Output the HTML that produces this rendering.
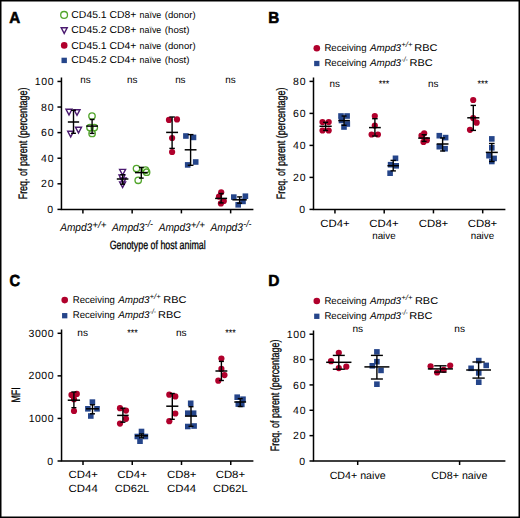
<!DOCTYPE html>
<html><head><meta charset="utf-8"><style>
html,body{margin:0;padding:0;background:#fff;}
svg{display:block;font-family:"Liberation Sans", sans-serif;text-rendering:geometricPrecision;}
</style></head><body>
<svg width="520" height="518" viewBox="0 0 520 518">
<rect width="520" height="518" fill="#fff"/>
<rect x="0.75" y="0.75" width="518.5" height="516.5" fill="none" stroke="#000" stroke-width="1.5"/>
<text x="9.32" y="22.70" font-size="16.0" font-weight="bold" textLength="10.98" lengthAdjust="spacingAndGlyphs" fill="#000" stroke="#000" stroke-width="0.6">A</text>
<circle cx="64.10" cy="14.90" r="3.4" fill="none" stroke="#52A52C" stroke-width="1.3"/>
<text x="71.37" y="18.20" font-size="10" textLength="65.04" lengthAdjust="spacingAndGlyphs" fill="#000">CD45.1 CD8+</text>
<text x="139.61" y="18.20" font-size="9.3" textLength="21.68" lengthAdjust="spacingAndGlyphs" fill="#000">naïve</text>
<text x="164.81" y="18.20" font-size="9.3" textLength="30.78" lengthAdjust="spacingAndGlyphs" fill="#000">(donor)</text>
<path d="M61.20 27.80 L67.20 27.80 L64.20 33.40 Z" fill="none" stroke="#4B1A70" stroke-width="1.4" stroke-linejoin="miter"/>
<text x="71.37" y="33.10" font-size="10" textLength="65.04" lengthAdjust="spacingAndGlyphs" fill="#000">CD45.2 CD8+</text>
<text x="139.61" y="33.10" font-size="9.3" textLength="21.68" lengthAdjust="spacingAndGlyphs" fill="#000">naïve</text>
<text x="164.80" y="33.10" font-size="9.3" textLength="24.70" lengthAdjust="spacingAndGlyphs" fill="#000">(host)</text>
<circle cx="64.20" cy="45.40" r="3.3" fill="#B0002C"/>
<text x="71.37" y="48.50" font-size="10" textLength="65.04" lengthAdjust="spacingAndGlyphs" fill="#000">CD45.1 CD4+</text>
<text x="139.61" y="48.50" font-size="9.3" textLength="21.68" lengthAdjust="spacingAndGlyphs" fill="#000">naïve</text>
<text x="164.81" y="48.50" font-size="9.3" textLength="30.78" lengthAdjust="spacingAndGlyphs" fill="#000">(donor)</text>
<rect x="61.50" y="57.70" width="5.4" height="5.4" fill="#25458A"/>
<text x="71.37" y="63.40" font-size="10" textLength="65.04" lengthAdjust="spacingAndGlyphs" fill="#000">CD45.2 CD4+</text>
<text x="139.61" y="63.40" font-size="9.3" textLength="21.68" lengthAdjust="spacingAndGlyphs" fill="#000">naïve</text>
<text x="164.80" y="63.40" font-size="9.3" textLength="24.70" lengthAdjust="spacingAndGlyphs" fill="#000">(host)</text>
<path d="M61.45 77.60 L61.45 209.40 L253.40 209.40" fill="none" stroke="#000" stroke-width="1.5" stroke-linejoin="miter" stroke-linecap="butt"/>
<line x1="57.45" y1="209.40" x2="61.45" y2="209.40" stroke="#000" stroke-width="1.5"/>
<line x1="57.45" y1="183.81" x2="61.45" y2="183.81" stroke="#000" stroke-width="1.5"/>
<line x1="57.45" y1="158.22" x2="61.45" y2="158.22" stroke="#000" stroke-width="1.5"/>
<line x1="57.45" y1="132.63" x2="61.45" y2="132.63" stroke="#000" stroke-width="1.5"/>
<line x1="57.45" y1="107.04" x2="61.45" y2="107.04" stroke="#000" stroke-width="1.5"/>
<line x1="57.45" y1="81.45" x2="61.45" y2="81.45" stroke="#000" stroke-width="1.5"/>
<line x1="82.90" y1="209.40" x2="82.90" y2="213.40" stroke="#000" stroke-width="1.5"/>
<line x1="132.15" y1="209.40" x2="132.15" y2="213.40" stroke="#000" stroke-width="1.5"/>
<line x1="181.40" y1="209.40" x2="181.40" y2="213.40" stroke="#000" stroke-width="1.5"/>
<line x1="230.65" y1="209.40" x2="230.65" y2="213.40" stroke="#000" stroke-width="1.5"/>
<text x="47.33" y="213.00" font-size="10.5" textLength="6.18" lengthAdjust="spacing" fill="#000">0</text>
<text x="41.09" y="187.41" font-size="10.5" textLength="12.42" lengthAdjust="spacing" fill="#000">20</text>
<text x="41.07" y="161.82" font-size="10.5" textLength="12.44" lengthAdjust="spacing" fill="#000">40</text>
<text x="41.09" y="136.23" font-size="10.5" textLength="12.42" lengthAdjust="spacing" fill="#000">60</text>
<text x="41.09" y="110.64" font-size="10.5" textLength="12.42" lengthAdjust="spacing" fill="#000">80</text>
<text x="34.87" y="85.05" font-size="10.5" textLength="18.64" lengthAdjust="spacing" fill="#000">100</text>
<text x="60.20" y="231.20" font-size="11.0" font-style="italic" textLength="31.99" lengthAdjust="spacingAndGlyphs" fill="#000">Ampd3</text>
<text x="92.38" y="227.60" font-size="9.5" font-style="italic" textLength="14.16" lengthAdjust="spacingAndGlyphs" fill="#000">+/+</text>
<text x="112.05" y="231.20" font-size="11.0" font-style="italic" textLength="32.39" lengthAdjust="spacingAndGlyphs" fill="#000">Ampd3</text>
<text x="144.70" y="227.00" font-size="9.5" font-style="italic" textLength="8.35" lengthAdjust="spacingAndGlyphs" fill="#000">-/-</text>
<text x="158.70" y="231.20" font-size="11.0" font-style="italic" textLength="31.99" lengthAdjust="spacingAndGlyphs" fill="#000">Ampd3</text>
<text x="190.88" y="227.60" font-size="9.5" font-style="italic" textLength="14.16" lengthAdjust="spacingAndGlyphs" fill="#000">+/+</text>
<text x="210.55" y="231.20" font-size="11.0" font-style="italic" textLength="32.39" lengthAdjust="spacingAndGlyphs" fill="#000">Ampd3</text>
<text x="243.20" y="227.00" font-size="9.5" font-style="italic" textLength="8.35" lengthAdjust="spacingAndGlyphs" fill="#000">-/-</text>
<text x="109.65" y="248.60" font-size="12.0" textLength="96.04" lengthAdjust="spacingAndGlyphs" fill="#000" stroke="#000" stroke-width="0.3">Genotype of host animal</text>
<text transform="rotate(-90)" x="-199.33" y="26.90" font-size="12.2" textLength="111.69" lengthAdjust="spacingAndGlyphs" stroke="#000" stroke-width="0.3">Freq. of parent (percentage)</text>
<text x="80.25" y="83.40" font-size="10" textLength="10.41" lengthAdjust="spacingAndGlyphs" fill="#000">ns</text>
<text x="126.95" y="83.40" font-size="10" textLength="10.41" lengthAdjust="spacingAndGlyphs" fill="#000">ns</text>
<text x="175.15" y="83.40" font-size="10" textLength="10.41" lengthAdjust="spacingAndGlyphs" fill="#000">ns</text>
<text x="225.25" y="83.40" font-size="10" textLength="10.41" lengthAdjust="spacingAndGlyphs" fill="#000">ns</text>
<path d="M66.00 109.30 L72.00 109.30 L69.00 114.90 Z" fill="none" stroke="#4B1A70" stroke-width="1.4" stroke-linejoin="miter"/>
<path d="M74.00 109.70 L80.00 109.70 L77.00 115.30 Z" fill="none" stroke="#4B1A70" stroke-width="1.4" stroke-linejoin="miter"/>
<path d="M75.50 127.30 L81.50 127.30 L78.50 132.90 Z" fill="none" stroke="#4B1A70" stroke-width="1.4" stroke-linejoin="miter"/>
<path d="M67.70 131.30 L73.70 131.30 L70.70 136.90 Z" fill="none" stroke="#4B1A70" stroke-width="1.4" stroke-linejoin="miter"/>
<line x1="73.50" y1="110.30" x2="73.50" y2="133.30" stroke="#000" stroke-width="1.4"/>
<line x1="67.85" y1="122.00" x2="79.15" y2="122.00" stroke="#000" stroke-width="1.5"/>
<line x1="71.10" y1="110.30" x2="75.90" y2="110.30" stroke="#000" stroke-width="1.4"/>
<line x1="71.10" y1="133.30" x2="75.90" y2="133.30" stroke="#000" stroke-width="1.4"/>
<circle cx="92.00" cy="116.00" r="3.2" fill="none" stroke="#52A52C" stroke-width="1.35"/>
<circle cx="90.00" cy="127.60" r="3.2" fill="none" stroke="#52A52C" stroke-width="1.35"/>
<circle cx="94.30" cy="127.60" r="3.2" fill="none" stroke="#52A52C" stroke-width="1.35"/>
<circle cx="92.10" cy="133.40" r="3.2" fill="none" stroke="#52A52C" stroke-width="1.35"/>
<line x1="92.10" y1="119.50" x2="92.10" y2="133.40" stroke="#000" stroke-width="1.4"/>
<line x1="86.20" y1="126.10" x2="98.00" y2="126.10" stroke="#000" stroke-width="1.5"/>
<line x1="89.70" y1="119.50" x2="94.50" y2="119.50" stroke="#000" stroke-width="1.4"/>
<line x1="89.70" y1="133.40" x2="94.50" y2="133.40" stroke="#000" stroke-width="1.4"/>
<path d="M119.60 169.40 L125.60 169.40 L122.60 175.00 Z" fill="none" stroke="#4B1A70" stroke-width="1.4" stroke-linejoin="miter"/>
<path d="M119.00 174.90 L125.00 174.90 L122.00 180.50 Z" fill="none" stroke="#4B1A70" stroke-width="1.4" stroke-linejoin="miter"/>
<path d="M120.20 177.90 L126.20 177.90 L123.20 183.50 Z" fill="none" stroke="#4B1A70" stroke-width="1.4" stroke-linejoin="miter"/>
<path d="M119.60 181.90 L125.60 181.90 L122.60 187.50 Z" fill="none" stroke="#4B1A70" stroke-width="1.4" stroke-linejoin="miter"/>
<line x1="122.60" y1="174.70" x2="122.60" y2="184.20" stroke="#000" stroke-width="1.4"/>
<line x1="116.80" y1="179.00" x2="128.40" y2="179.00" stroke="#000" stroke-width="1.5"/>
<line x1="120.20" y1="174.70" x2="125.00" y2="174.70" stroke="#000" stroke-width="1.4"/>
<line x1="120.20" y1="184.20" x2="125.00" y2="184.20" stroke="#000" stroke-width="1.4"/>
<circle cx="136.50" cy="168.50" r="3.2" fill="none" stroke="#52A52C" stroke-width="1.35"/>
<circle cx="145.50" cy="170.00" r="3.2" fill="none" stroke="#52A52C" stroke-width="1.35"/>
<circle cx="146.60" cy="172.20" r="3.2" fill="none" stroke="#52A52C" stroke-width="1.35"/>
<circle cx="138.20" cy="180.30" r="3.2" fill="none" stroke="#52A52C" stroke-width="1.35"/>
<line x1="141.30" y1="167.40" x2="141.30" y2="178.10" stroke="#000" stroke-width="1.4"/>
<line x1="134.95" y1="172.60" x2="147.65" y2="172.60" stroke="#000" stroke-width="1.5"/>
<line x1="138.90" y1="167.40" x2="143.70" y2="167.40" stroke="#000" stroke-width="1.4"/>
<line x1="138.90" y1="178.10" x2="143.70" y2="178.10" stroke="#000" stroke-width="1.4"/>
<circle cx="169.00" cy="119.90" r="3.1" fill="#B0002C"/>
<circle cx="177.00" cy="119.40" r="3.1" fill="#B0002C"/>
<circle cx="172.10" cy="138.00" r="3.1" fill="#B0002C"/>
<circle cx="172.10" cy="152.00" r="3.1" fill="#B0002C"/>
<line x1="172.10" y1="117.00" x2="172.10" y2="148.40" stroke="#000" stroke-width="1.4"/>
<line x1="166.15" y1="132.40" x2="178.05" y2="132.40" stroke="#000" stroke-width="1.5"/>
<line x1="169.35" y1="117.00" x2="174.85" y2="117.00" stroke="#000" stroke-width="1.4"/>
<line x1="169.35" y1="148.40" x2="174.85" y2="148.40" stroke="#000" stroke-width="1.4"/>
<rect x="183.10" y="133.20" width="5.6" height="5.6" fill="#25458A"/>
<rect x="190.70" y="134.60" width="5.6" height="5.6" fill="#25458A"/>
<rect x="184.90" y="162.10" width="5.6" height="5.6" fill="#25458A"/>
<rect x="192.90" y="159.20" width="5.6" height="5.6" fill="#25458A"/>
<line x1="190.60" y1="134.60" x2="190.60" y2="165.30" stroke="#000" stroke-width="1.4"/>
<line x1="184.70" y1="149.80" x2="196.50" y2="149.80" stroke="#000" stroke-width="1.5"/>
<line x1="187.75" y1="134.60" x2="193.45" y2="134.60" stroke="#000" stroke-width="1.4"/>
<line x1="187.75" y1="165.30" x2="193.45" y2="165.30" stroke="#000" stroke-width="1.4"/>
<circle cx="221.20" cy="192.30" r="3.1" fill="#B0002C"/>
<circle cx="219.00" cy="196.60" r="3.1" fill="#B0002C"/>
<circle cx="223.80" cy="201.00" r="3.1" fill="#B0002C"/>
<circle cx="220.90" cy="203.40" r="3.1" fill="#B0002C"/>
<line x1="221.10" y1="193.50" x2="221.10" y2="202.90" stroke="#000" stroke-width="1.4"/>
<line x1="215.10" y1="198.40" x2="227.10" y2="198.40" stroke="#000" stroke-width="1.5"/>
<line x1="218.60" y1="193.50" x2="223.60" y2="193.50" stroke="#000" stroke-width="1.4"/>
<line x1="218.60" y1="202.90" x2="223.60" y2="202.90" stroke="#000" stroke-width="1.4"/>
<rect x="231.00" y="194.30" width="5.6" height="5.6" fill="#25458A"/>
<rect x="242.60" y="193.40" width="5.6" height="5.6" fill="#25458A"/>
<rect x="240.20" y="198.60" width="5.6" height="5.6" fill="#25458A"/>
<rect x="235.40" y="202.00" width="5.6" height="5.6" fill="#25458A"/>
<line x1="239.60" y1="196.90" x2="239.60" y2="203.20" stroke="#000" stroke-width="1.4"/>
<line x1="232.40" y1="199.80" x2="246.80" y2="199.80" stroke="#000" stroke-width="1.5"/>
<line x1="237.10" y1="196.90" x2="242.10" y2="196.90" stroke="#000" stroke-width="1.4"/>
<line x1="237.10" y1="203.20" x2="242.10" y2="203.20" stroke="#000" stroke-width="1.4"/>
<text x="268.28" y="22.70" font-size="16.0" font-weight="bold" textLength="11.01" lengthAdjust="spacingAndGlyphs" fill="#000" stroke="#000" stroke-width="0.6">B</text>
<circle cx="316.80" cy="48.30" r="3.3" fill="#B0002C"/>
<rect x="314.15" y="60.85" width="5.3" height="5.3" fill="#25458A"/>
<text x="324.41" y="51.30" font-size="9.8" textLength="42.10" lengthAdjust="spacingAndGlyphs" fill="#000">Receiving</text>
<text x="324.41" y="66.30" font-size="9.8" textLength="42.10" lengthAdjust="spacingAndGlyphs" fill="#000">Receiving</text>
<text x="369.98" y="51.30" font-size="9.8" font-style="italic" textLength="31.10" lengthAdjust="spacingAndGlyphs" fill="#000">Ampd3</text>
<text x="369.98" y="66.30" font-size="9.8" font-style="italic" textLength="31.10" lengthAdjust="spacingAndGlyphs" fill="#000">Ampd3</text>
<text x="401.21" y="47.30" font-size="7.6" font-style="italic" textLength="11.26" lengthAdjust="spacingAndGlyphs" fill="#000">+/+</text>
<text x="401.46" y="62.30" font-size="7.6" font-style="italic" textLength="6.18" lengthAdjust="spacingAndGlyphs" fill="#000">-/-</text>
<text x="414.30" y="51.30" font-size="9.8" textLength="23.22" lengthAdjust="spacingAndGlyphs" fill="#000">RBC</text>
<text x="409.50" y="66.30" font-size="9.8" textLength="23.22" lengthAdjust="spacingAndGlyphs" fill="#000">RBC</text>
<path d="M313.50 77.60 L313.50 209.40 L505.40 209.40" fill="none" stroke="#000" stroke-width="1.5" stroke-linejoin="miter" stroke-linecap="butt"/>
<line x1="309.50" y1="209.40" x2="313.50" y2="209.40" stroke="#000" stroke-width="1.5"/>
<line x1="309.50" y1="177.40" x2="313.50" y2="177.40" stroke="#000" stroke-width="1.5"/>
<line x1="309.50" y1="145.40" x2="313.50" y2="145.40" stroke="#000" stroke-width="1.5"/>
<line x1="309.50" y1="113.40" x2="313.50" y2="113.40" stroke="#000" stroke-width="1.5"/>
<line x1="309.50" y1="81.40" x2="313.50" y2="81.40" stroke="#000" stroke-width="1.5"/>
<line x1="334.95" y1="209.40" x2="334.95" y2="213.40" stroke="#000" stroke-width="1.5"/>
<line x1="384.20" y1="209.40" x2="384.20" y2="213.40" stroke="#000" stroke-width="1.5"/>
<line x1="433.45" y1="209.40" x2="433.45" y2="213.40" stroke="#000" stroke-width="1.5"/>
<line x1="482.70" y1="209.40" x2="482.70" y2="213.40" stroke="#000" stroke-width="1.5"/>
<text x="299.33" y="213.00" font-size="10.5" textLength="6.18" lengthAdjust="spacing" fill="#000">0</text>
<text x="293.09" y="181.00" font-size="10.5" textLength="12.42" lengthAdjust="spacing" fill="#000">20</text>
<text x="293.07" y="149.00" font-size="10.5" textLength="12.44" lengthAdjust="spacing" fill="#000">40</text>
<text x="293.09" y="117.00" font-size="10.5" textLength="12.42" lengthAdjust="spacing" fill="#000">60</text>
<text x="293.09" y="85.00" font-size="10.5" textLength="12.42" lengthAdjust="spacing" fill="#000">80</text>
<text x="320.27" y="226.90" font-size="10.5" textLength="29.44" lengthAdjust="spacingAndGlyphs" fill="#000">CD4+</text>
<text x="369.27" y="226.90" font-size="10.5" textLength="29.44" lengthAdjust="spacingAndGlyphs" fill="#000">CD4+</text>
<text x="372.20" y="239.10" font-size="10" textLength="23.38" lengthAdjust="spacingAndGlyphs" fill="#000">naive</text>
<text x="418.77" y="226.90" font-size="10.5" textLength="29.44" lengthAdjust="spacingAndGlyphs" fill="#000">CD8+</text>
<text x="467.77" y="226.90" font-size="10.5" textLength="29.44" lengthAdjust="spacingAndGlyphs" fill="#000">CD8+</text>
<text x="470.70" y="239.10" font-size="10" textLength="23.38" lengthAdjust="spacingAndGlyphs" fill="#000">naive</text>
<text transform="rotate(-90)" x="-199.23" y="285.00" font-size="12.2" textLength="111.59" lengthAdjust="spacingAndGlyphs" stroke="#000" stroke-width="0.3">Freq. of parent (percentage)</text>
<text x="329.55" y="87.00" font-size="10" textLength="10.41" lengthAdjust="spacingAndGlyphs" fill="#000">ns</text>
<text x="428.05" y="87.00" font-size="10" textLength="10.41" lengthAdjust="spacingAndGlyphs" fill="#000">ns</text>
<text x="378.76" y="86.60" font-size="10" textLength="10.49" lengthAdjust="spacingAndGlyphs" fill="#000">***</text>
<text x="477.46" y="86.60" font-size="10" textLength="10.49" lengthAdjust="spacingAndGlyphs" fill="#000">***</text>
<circle cx="322.50" cy="122.10" r="3.1" fill="#B0002C"/>
<circle cx="328.70" cy="122.10" r="3.1" fill="#B0002C"/>
<circle cx="322.50" cy="130.50" r="3.1" fill="#B0002C"/>
<circle cx="328.70" cy="130.50" r="3.1" fill="#B0002C"/>
<line x1="325.60" y1="122.30" x2="325.60" y2="130.50" stroke="#000" stroke-width="1.4"/>
<line x1="319.50" y1="126.30" x2="331.70" y2="126.30" stroke="#000" stroke-width="1.5"/>
<line x1="323.10" y1="122.30" x2="328.10" y2="122.30" stroke="#000" stroke-width="1.4"/>
<line x1="323.10" y1="130.50" x2="328.10" y2="130.50" stroke="#000" stroke-width="1.4"/>
<rect x="338.20" y="113.20" width="5.6" height="5.6" fill="#25458A"/>
<rect x="344.30" y="113.20" width="5.6" height="5.6" fill="#25458A"/>
<rect x="338.70" y="117.70" width="5.6" height="5.6" fill="#25458A"/>
<rect x="344.50" y="121.20" width="5.6" height="5.6" fill="#25458A"/>
<rect x="341.20" y="124.20" width="5.6" height="5.6" fill="#25458A"/>
<line x1="344.10" y1="116.00" x2="344.10" y2="125.30" stroke="#000" stroke-width="1.4"/>
<line x1="338.30" y1="120.60" x2="349.90" y2="120.60" stroke="#000" stroke-width="1.5"/>
<line x1="341.60" y1="116.00" x2="346.60" y2="116.00" stroke="#000" stroke-width="1.4"/>
<line x1="341.60" y1="125.30" x2="346.60" y2="125.30" stroke="#000" stroke-width="1.4"/>
<circle cx="374.80" cy="116.00" r="3.1" fill="#B0002C"/>
<circle cx="374.80" cy="125.60" r="3.1" fill="#B0002C"/>
<circle cx="371.60" cy="134.50" r="3.1" fill="#B0002C"/>
<circle cx="377.90" cy="134.50" r="3.1" fill="#B0002C"/>
<line x1="374.90" y1="118.70" x2="374.90" y2="136.00" stroke="#000" stroke-width="1.4"/>
<line x1="369.00" y1="127.60" x2="380.80" y2="127.60" stroke="#000" stroke-width="1.5"/>
<line x1="372.15" y1="118.70" x2="377.65" y2="118.70" stroke="#000" stroke-width="1.4"/>
<line x1="372.15" y1="136.00" x2="377.65" y2="136.00" stroke="#000" stroke-width="1.4"/>
<rect x="392.70" y="155.50" width="5.6" height="5.6" fill="#25458A"/>
<rect x="387.80" y="161.90" width="5.6" height="5.6" fill="#25458A"/>
<rect x="393.40" y="163.00" width="5.6" height="5.6" fill="#25458A"/>
<rect x="387.30" y="170.40" width="5.6" height="5.6" fill="#25458A"/>
<line x1="393.20" y1="160.40" x2="393.20" y2="170.90" stroke="#000" stroke-width="1.4"/>
<line x1="387.45" y1="165.70" x2="398.95" y2="165.70" stroke="#000" stroke-width="1.5"/>
<line x1="390.50" y1="160.40" x2="395.90" y2="160.40" stroke="#000" stroke-width="1.4"/>
<line x1="390.50" y1="170.90" x2="395.90" y2="170.90" stroke="#000" stroke-width="1.4"/>
<circle cx="424.20" cy="133.30" r="3.1" fill="#B0002C"/>
<circle cx="421.50" cy="135.70" r="3.1" fill="#B0002C"/>
<circle cx="426.80" cy="140.20" r="3.1" fill="#B0002C"/>
<circle cx="423.50" cy="141.90" r="3.1" fill="#B0002C"/>
<line x1="424.10" y1="134.70" x2="424.10" y2="141.40" stroke="#000" stroke-width="1.4"/>
<line x1="418.20" y1="138.10" x2="430.00" y2="138.10" stroke="#000" stroke-width="1.5"/>
<line x1="421.60" y1="134.70" x2="426.60" y2="134.70" stroke="#000" stroke-width="1.4"/>
<line x1="421.60" y1="141.40" x2="426.60" y2="141.40" stroke="#000" stroke-width="1.4"/>
<rect x="436.50" y="132.90" width="5.6" height="5.6" fill="#25458A"/>
<rect x="442.80" y="134.80" width="5.6" height="5.6" fill="#25458A"/>
<rect x="436.50" y="143.90" width="5.6" height="5.6" fill="#25458A"/>
<rect x="442.30" y="145.90" width="5.6" height="5.6" fill="#25458A"/>
<line x1="442.60" y1="137.90" x2="442.60" y2="151.00" stroke="#000" stroke-width="1.4"/>
<line x1="436.70" y1="144.00" x2="448.50" y2="144.00" stroke="#000" stroke-width="1.5"/>
<line x1="440.10" y1="137.90" x2="445.10" y2="137.90" stroke="#000" stroke-width="1.4"/>
<line x1="440.10" y1="151.00" x2="445.10" y2="151.00" stroke="#000" stroke-width="1.4"/>
<circle cx="473.20" cy="100.00" r="3.1" fill="#B0002C"/>
<circle cx="473.20" cy="118.10" r="3.1" fill="#B0002C"/>
<circle cx="476.60" cy="122.70" r="3.1" fill="#B0002C"/>
<circle cx="470.00" cy="129.80" r="3.1" fill="#B0002C"/>
<line x1="473.30" y1="105.40" x2="473.30" y2="130.40" stroke="#000" stroke-width="1.4"/>
<line x1="467.25" y1="117.80" x2="479.35" y2="117.80" stroke="#000" stroke-width="1.5"/>
<line x1="470.60" y1="105.40" x2="476.00" y2="105.40" stroke="#000" stroke-width="1.4"/>
<line x1="470.60" y1="130.40" x2="476.00" y2="130.40" stroke="#000" stroke-width="1.4"/>
<rect x="489.00" y="136.10" width="5.6" height="5.6" fill="#25458A"/>
<rect x="489.00" y="145.00" width="5.6" height="5.6" fill="#25458A"/>
<rect x="486.20" y="152.90" width="5.6" height="5.6" fill="#25458A"/>
<rect x="491.30" y="155.60" width="5.6" height="5.6" fill="#25458A"/>
<rect x="489.00" y="158.70" width="5.6" height="5.6" fill="#25458A"/>
<line x1="491.80" y1="143.50" x2="491.80" y2="161.50" stroke="#000" stroke-width="1.4"/>
<line x1="485.80" y1="152.40" x2="497.80" y2="152.40" stroke="#000" stroke-width="1.5"/>
<line x1="489.00" y1="143.50" x2="494.60" y2="143.50" stroke="#000" stroke-width="1.4"/>
<line x1="489.00" y1="161.50" x2="494.60" y2="161.50" stroke="#000" stroke-width="1.4"/>
<text x="9.60" y="286.30" font-size="16.0" font-weight="bold" textLength="10.60" lengthAdjust="spacingAndGlyphs" fill="#000" stroke="#000" stroke-width="0.6">C</text>
<circle cx="64.70" cy="300.10" r="3.3" fill="#B0002C"/>
<rect x="62.05" y="313.05" width="5.3" height="5.3" fill="#25458A"/>
<text x="72.71" y="303.10" font-size="9.8" textLength="42.10" lengthAdjust="spacingAndGlyphs" fill="#000">Receiving</text>
<text x="72.71" y="318.30" font-size="9.8" textLength="42.10" lengthAdjust="spacingAndGlyphs" fill="#000">Receiving</text>
<text x="118.28" y="303.10" font-size="9.8" font-style="italic" textLength="31.10" lengthAdjust="spacingAndGlyphs" fill="#000">Ampd3</text>
<text x="118.28" y="318.30" font-size="9.8" font-style="italic" textLength="31.10" lengthAdjust="spacingAndGlyphs" fill="#000">Ampd3</text>
<text x="149.51" y="299.10" font-size="7.6" font-style="italic" textLength="11.26" lengthAdjust="spacingAndGlyphs" fill="#000">+/+</text>
<text x="149.76" y="314.30" font-size="7.6" font-style="italic" textLength="6.18" lengthAdjust="spacingAndGlyphs" fill="#000">-/-</text>
<text x="163.20" y="303.10" font-size="9.8" textLength="23.22" lengthAdjust="spacingAndGlyphs" fill="#000">RBC</text>
<text x="158.00" y="318.30" font-size="9.8" textLength="23.22" lengthAdjust="spacingAndGlyphs" fill="#000">RBC</text>
<path d="M61.55 329.60 L61.55 461.00 L253.40 461.00" fill="none" stroke="#000" stroke-width="1.5" stroke-linejoin="miter" stroke-linecap="butt"/>
<line x1="57.55" y1="461.00" x2="61.55" y2="461.00" stroke="#000" stroke-width="1.5"/>
<line x1="57.55" y1="418.43" x2="61.55" y2="418.43" stroke="#000" stroke-width="1.5"/>
<line x1="57.55" y1="375.86" x2="61.55" y2="375.86" stroke="#000" stroke-width="1.5"/>
<line x1="57.55" y1="333.29" x2="61.55" y2="333.29" stroke="#000" stroke-width="1.5"/>
<line x1="83.00" y1="461.00" x2="83.00" y2="465.00" stroke="#000" stroke-width="1.5"/>
<line x1="132.25" y1="461.00" x2="132.25" y2="465.00" stroke="#000" stroke-width="1.5"/>
<line x1="181.50" y1="461.00" x2="181.50" y2="465.00" stroke="#000" stroke-width="1.5"/>
<line x1="230.75" y1="461.00" x2="230.75" y2="465.00" stroke="#000" stroke-width="1.5"/>
<text x="47.33" y="464.60" font-size="10.5" textLength="6.18" lengthAdjust="spacing" fill="#000">0</text>
<text x="28.63" y="422.03" font-size="10.5" textLength="24.88" lengthAdjust="spacing" fill="#000">1000</text>
<text x="28.61" y="379.46" font-size="10.5" textLength="24.90" lengthAdjust="spacing" fill="#000">2000</text>
<text x="28.61" y="336.89" font-size="10.5" textLength="24.90" lengthAdjust="spacing" fill="#000">3000</text>
<text x="68.57" y="478.20" font-size="10.5" textLength="29.44" lengthAdjust="spacingAndGlyphs" fill="#000">CD4+</text>
<text x="68.57" y="491.50" font-size="10.5" textLength="29.22" lengthAdjust="spacingAndGlyphs" fill="#000">CD44</text>
<text x="117.37" y="478.20" font-size="10.5" textLength="29.44" lengthAdjust="spacingAndGlyphs" fill="#000">CD4+</text>
<text x="114.74" y="491.50" font-size="10.5" textLength="34.53" lengthAdjust="spacingAndGlyphs" fill="#000">CD62L</text>
<text x="166.97" y="478.20" font-size="10.5" textLength="29.44" lengthAdjust="spacingAndGlyphs" fill="#000">CD8+</text>
<text x="166.97" y="491.50" font-size="10.5" textLength="29.22" lengthAdjust="spacingAndGlyphs" fill="#000">CD44</text>
<text x="215.67" y="478.20" font-size="10.5" textLength="29.44" lengthAdjust="spacingAndGlyphs" fill="#000">CD8+</text>
<text x="213.04" y="491.50" font-size="10.5" textLength="34.53" lengthAdjust="spacingAndGlyphs" fill="#000">CD62L</text>
<text transform="rotate(-90)" x="-402.53" y="20.20" font-size="12.2" textLength="15.24" lengthAdjust="spacingAndGlyphs" stroke="#000" stroke-width="0.3">MFI</text>
<text x="77.33" y="336.40" font-size="10" textLength="10.63" lengthAdjust="spacingAndGlyphs" fill="#000">ns</text>
<text x="176.03" y="336.40" font-size="10" textLength="10.63" lengthAdjust="spacingAndGlyphs" fill="#000">ns</text>
<text x="127.26" y="336.20" font-size="10" textLength="10.49" lengthAdjust="spacingAndGlyphs" fill="#000">***</text>
<text x="225.36" y="336.20" font-size="10" textLength="10.49" lengthAdjust="spacingAndGlyphs" fill="#000">***</text>
<circle cx="71.50" cy="394.90" r="3.1" fill="#B0002C"/>
<circle cx="76.80" cy="393.90" r="3.1" fill="#B0002C"/>
<circle cx="74.00" cy="399.20" r="3.1" fill="#B0002C"/>
<circle cx="74.00" cy="411.00" r="3.1" fill="#B0002C"/>
<line x1="73.90" y1="392.00" x2="73.90" y2="407.70" stroke="#000" stroke-width="1.4"/>
<line x1="67.75" y1="400.20" x2="80.05" y2="400.20" stroke="#000" stroke-width="1.5"/>
<line x1="71.40" y1="392.00" x2="76.40" y2="392.00" stroke="#000" stroke-width="1.4"/>
<line x1="71.40" y1="407.70" x2="76.40" y2="407.70" stroke="#000" stroke-width="1.4"/>
<rect x="89.60" y="399.30" width="5.6" height="5.6" fill="#25458A"/>
<rect x="85.10" y="406.00" width="5.6" height="5.6" fill="#25458A"/>
<rect x="94.20" y="406.00" width="5.6" height="5.6" fill="#25458A"/>
<rect x="88.00" y="413.20" width="5.6" height="5.6" fill="#25458A"/>
<line x1="92.50" y1="404.80" x2="92.50" y2="413.80" stroke="#000" stroke-width="1.4"/>
<line x1="86.05" y1="408.80" x2="98.95" y2="408.80" stroke="#000" stroke-width="1.5"/>
<line x1="90.00" y1="404.80" x2="95.00" y2="404.80" stroke="#000" stroke-width="1.4"/>
<line x1="90.00" y1="413.80" x2="95.00" y2="413.80" stroke="#000" stroke-width="1.4"/>
<circle cx="120.00" cy="408.20" r="3.1" fill="#B0002C"/>
<circle cx="126.00" cy="410.60" r="3.1" fill="#B0002C"/>
<circle cx="126.00" cy="418.80" r="3.1" fill="#B0002C"/>
<circle cx="120.00" cy="423.60" r="3.1" fill="#B0002C"/>
<line x1="122.90" y1="408.20" x2="122.90" y2="422.20" stroke="#000" stroke-width="1.4"/>
<line x1="117.15" y1="415.40" x2="128.65" y2="415.40" stroke="#000" stroke-width="1.5"/>
<line x1="120.40" y1="408.20" x2="125.40" y2="408.20" stroke="#000" stroke-width="1.4"/>
<line x1="120.40" y1="422.20" x2="125.40" y2="422.20" stroke="#000" stroke-width="1.4"/>
<rect x="138.70" y="428.70" width="5.6" height="5.6" fill="#25458A"/>
<rect x="134.50" y="433.70" width="5.6" height="5.6" fill="#25458A"/>
<rect x="142.60" y="433.70" width="5.6" height="5.6" fill="#25458A"/>
<rect x="137.20" y="438.40" width="5.6" height="5.6" fill="#25458A"/>
<line x1="141.50" y1="434.00" x2="141.50" y2="437.80" stroke="#000" stroke-width="1.4"/>
<line x1="135.00" y1="435.80" x2="148.00" y2="435.80" stroke="#000" stroke-width="1.5"/>
<line x1="139.00" y1="434.00" x2="144.00" y2="434.00" stroke="#000" stroke-width="1.4"/>
<line x1="139.00" y1="437.80" x2="144.00" y2="437.80" stroke="#000" stroke-width="1.4"/>
<circle cx="169.30" cy="394.70" r="3.1" fill="#B0002C"/>
<circle cx="175.30" cy="396.40" r="3.1" fill="#B0002C"/>
<circle cx="175.30" cy="413.50" r="3.1" fill="#B0002C"/>
<circle cx="169.30" cy="421.20" r="3.1" fill="#B0002C"/>
<line x1="172.30" y1="393.50" x2="172.30" y2="419.30" stroke="#000" stroke-width="1.4"/>
<line x1="166.25" y1="406.20" x2="178.35" y2="406.20" stroke="#000" stroke-width="1.5"/>
<line x1="169.80" y1="393.50" x2="174.80" y2="393.50" stroke="#000" stroke-width="1.4"/>
<line x1="169.80" y1="419.30" x2="174.80" y2="419.30" stroke="#000" stroke-width="1.4"/>
<rect x="187.90" y="400.50" width="5.6" height="5.6" fill="#25458A"/>
<rect x="185.00" y="410.40" width="5.6" height="5.6" fill="#25458A"/>
<rect x="190.80" y="410.40" width="5.6" height="5.6" fill="#25458A"/>
<rect x="185.00" y="423.70" width="5.6" height="5.6" fill="#25458A"/>
<rect x="191.30" y="423.20" width="5.6" height="5.6" fill="#25458A"/>
<line x1="191.00" y1="406.70" x2="191.00" y2="426.30" stroke="#000" stroke-width="1.4"/>
<line x1="184.95" y1="416.10" x2="197.05" y2="416.10" stroke="#000" stroke-width="1.5"/>
<line x1="188.50" y1="406.70" x2="193.50" y2="406.70" stroke="#000" stroke-width="1.4"/>
<line x1="188.50" y1="426.30" x2="193.50" y2="426.30" stroke="#000" stroke-width="1.4"/>
<circle cx="221.40" cy="358.50" r="3.1" fill="#B0002C"/>
<circle cx="221.40" cy="368.90" r="3.1" fill="#B0002C"/>
<circle cx="224.50" cy="375.10" r="3.1" fill="#B0002C"/>
<circle cx="218.30" cy="380.70" r="3.1" fill="#B0002C"/>
<line x1="221.40" y1="361.40" x2="221.40" y2="380.50" stroke="#000" stroke-width="1.4"/>
<line x1="215.45" y1="371.00" x2="227.35" y2="371.00" stroke="#000" stroke-width="1.5"/>
<line x1="218.90" y1="361.40" x2="223.90" y2="361.40" stroke="#000" stroke-width="1.4"/>
<line x1="218.90" y1="380.50" x2="223.90" y2="380.50" stroke="#000" stroke-width="1.4"/>
<rect x="234.40" y="394.40" width="5.6" height="5.6" fill="#25458A"/>
<rect x="240.20" y="396.40" width="5.6" height="5.6" fill="#25458A"/>
<rect x="235.50" y="401.30" width="5.6" height="5.6" fill="#25458A"/>
<rect x="239.00" y="401.60" width="5.6" height="5.6" fill="#25458A"/>
<line x1="240.20" y1="398.60" x2="240.20" y2="406.50" stroke="#000" stroke-width="1.4"/>
<line x1="234.30" y1="402.00" x2="246.10" y2="402.00" stroke="#000" stroke-width="1.5"/>
<line x1="237.70" y1="398.60" x2="242.70" y2="398.60" stroke="#000" stroke-width="1.4"/>
<line x1="237.70" y1="406.50" x2="242.70" y2="406.50" stroke="#000" stroke-width="1.4"/>
<text x="268.26" y="286.00" font-size="16.0" font-weight="bold" textLength="11.19" lengthAdjust="spacingAndGlyphs" fill="#000" stroke="#000" stroke-width="0.6">D</text>
<circle cx="316.80" cy="301.00" r="3.3" fill="#B0002C"/>
<rect x="314.15" y="313.65" width="5.3" height="5.3" fill="#25458A"/>
<text x="324.41" y="303.90" font-size="9.8" textLength="42.10" lengthAdjust="spacingAndGlyphs" fill="#000">Receiving</text>
<text x="324.41" y="318.80" font-size="9.8" textLength="42.10" lengthAdjust="spacingAndGlyphs" fill="#000">Receiving</text>
<text x="369.98" y="303.90" font-size="9.8" font-style="italic" textLength="31.10" lengthAdjust="spacingAndGlyphs" fill="#000">Ampd3</text>
<text x="369.98" y="318.80" font-size="9.8" font-style="italic" textLength="31.10" lengthAdjust="spacingAndGlyphs" fill="#000">Ampd3</text>
<text x="401.21" y="299.90" font-size="7.6" font-style="italic" textLength="11.26" lengthAdjust="spacingAndGlyphs" fill="#000">+/+</text>
<text x="401.46" y="314.80" font-size="7.6" font-style="italic" textLength="6.18" lengthAdjust="spacingAndGlyphs" fill="#000">-/-</text>
<text x="414.90" y="303.90" font-size="9.8" textLength="23.22" lengthAdjust="spacingAndGlyphs" fill="#000">RBC</text>
<text x="409.30" y="318.80" font-size="9.8" textLength="23.22" lengthAdjust="spacingAndGlyphs" fill="#000">RBC</text>
<path d="M313.50 330.60 L313.50 461.00 L505.40 461.00" fill="none" stroke="#000" stroke-width="1.5" stroke-linejoin="miter" stroke-linecap="butt"/>
<line x1="309.50" y1="461.00" x2="313.50" y2="461.00" stroke="#000" stroke-width="1.5"/>
<line x1="309.50" y1="435.64" x2="313.50" y2="435.64" stroke="#000" stroke-width="1.5"/>
<line x1="309.50" y1="410.28" x2="313.50" y2="410.28" stroke="#000" stroke-width="1.5"/>
<line x1="309.50" y1="384.92" x2="313.50" y2="384.92" stroke="#000" stroke-width="1.5"/>
<line x1="309.50" y1="359.56" x2="313.50" y2="359.56" stroke="#000" stroke-width="1.5"/>
<line x1="309.50" y1="334.20" x2="313.50" y2="334.20" stroke="#000" stroke-width="1.5"/>
<line x1="357.70" y1="461.00" x2="357.70" y2="465.00" stroke="#000" stroke-width="1.5"/>
<line x1="459.60" y1="461.00" x2="459.60" y2="465.00" stroke="#000" stroke-width="1.5"/>
<text x="299.33" y="464.60" font-size="10.5" textLength="6.18" lengthAdjust="spacing" fill="#000">0</text>
<text x="293.09" y="439.24" font-size="10.5" textLength="12.42" lengthAdjust="spacing" fill="#000">20</text>
<text x="293.07" y="413.88" font-size="10.5" textLength="12.44" lengthAdjust="spacing" fill="#000">40</text>
<text x="293.09" y="388.52" font-size="10.5" textLength="12.42" lengthAdjust="spacing" fill="#000">60</text>
<text x="293.09" y="363.16" font-size="10.5" textLength="12.42" lengthAdjust="spacing" fill="#000">80</text>
<text x="286.87" y="337.80" font-size="10.5" textLength="18.64" lengthAdjust="spacing" fill="#000">100</text>
<text x="329.66" y="478.70" font-size="10.5" textLength="56.02" lengthAdjust="spacingAndGlyphs" fill="#000">CD4+ naive</text>
<text x="431.36" y="478.70" font-size="10.5" textLength="56.02" lengthAdjust="spacingAndGlyphs" fill="#000">CD8+ naive</text>
<text transform="rotate(-90)" x="-451.23" y="278.80" font-size="12.2" textLength="111.59" lengthAdjust="spacingAndGlyphs" stroke="#000" stroke-width="0.3">Freq. of parent (percentage)</text>
<text x="352.43" y="331.80" font-size="10" textLength="10.63" lengthAdjust="spacingAndGlyphs" fill="#000">ns</text>
<text x="454.33" y="331.80" font-size="10" textLength="10.63" lengthAdjust="spacingAndGlyphs" fill="#000">ns</text>
<circle cx="338.80" cy="352.80" r="3.1" fill="#B0002C"/>
<circle cx="331.00" cy="361.20" r="3.1" fill="#B0002C"/>
<circle cx="346.30" cy="366.70" r="3.1" fill="#B0002C"/>
<circle cx="338.80" cy="368.10" r="3.1" fill="#B0002C"/>
<line x1="338.80" y1="355.40" x2="338.80" y2="369.20" stroke="#000" stroke-width="1.4"/>
<line x1="326.15" y1="362.30" x2="351.45" y2="362.30" stroke="#000" stroke-width="1.5"/>
<line x1="332.80" y1="355.40" x2="344.80" y2="355.40" stroke="#000" stroke-width="1.4"/>
<line x1="332.80" y1="369.20" x2="344.80" y2="369.20" stroke="#000" stroke-width="1.4"/>
<rect x="374.10" y="349.10" width="5.6" height="5.6" fill="#25458A"/>
<rect x="374.10" y="358.90" width="5.6" height="5.6" fill="#25458A"/>
<rect x="369.50" y="363.00" width="5.6" height="5.6" fill="#25458A"/>
<rect x="378.20" y="367.60" width="5.6" height="5.6" fill="#25458A"/>
<rect x="374.10" y="381.40" width="5.6" height="5.6" fill="#25458A"/>
<line x1="376.90" y1="355.40" x2="376.90" y2="379.00" stroke="#000" stroke-width="1.4"/>
<line x1="364.40" y1="366.90" x2="389.40" y2="366.90" stroke="#000" stroke-width="1.5"/>
<line x1="370.90" y1="355.40" x2="382.90" y2="355.40" stroke="#000" stroke-width="1.4"/>
<line x1="370.90" y1="379.00" x2="382.90" y2="379.00" stroke="#000" stroke-width="1.4"/>
<circle cx="430.60" cy="366.30" r="3.1" fill="#B0002C"/>
<circle cx="450.20" cy="365.50" r="3.1" fill="#B0002C"/>
<circle cx="437.10" cy="372.50" r="3.1" fill="#B0002C"/>
<circle cx="443.70" cy="369.80" r="3.1" fill="#B0002C"/>
<line x1="440.40" y1="365.80" x2="440.40" y2="372.10" stroke="#000" stroke-width="1.4"/>
<line x1="427.85" y1="368.90" x2="452.95" y2="368.90" stroke="#000" stroke-width="1.5"/>
<line x1="434.20" y1="365.80" x2="446.60" y2="365.80" stroke="#000" stroke-width="1.4"/>
<line x1="434.20" y1="372.10" x2="446.60" y2="372.10" stroke="#000" stroke-width="1.4"/>
<rect x="475.95" y="357.80" width="5.6" height="5.6" fill="#25458A"/>
<rect x="483.40" y="362.60" width="5.6" height="5.6" fill="#25458A"/>
<rect x="468.30" y="365.50" width="5.6" height="5.6" fill="#25458A"/>
<rect x="475.95" y="370.10" width="5.6" height="5.6" fill="#25458A"/>
<rect x="475.95" y="379.40" width="5.6" height="5.6" fill="#25458A"/>
<line x1="478.60" y1="362.00" x2="478.60" y2="378.10" stroke="#000" stroke-width="1.4"/>
<line x1="466.20" y1="370.00" x2="491.00" y2="370.00" stroke="#000" stroke-width="1.5"/>
<line x1="472.45" y1="362.00" x2="484.75" y2="362.00" stroke="#000" stroke-width="1.4"/>
<line x1="472.45" y1="378.10" x2="484.75" y2="378.10" stroke="#000" stroke-width="1.4"/>
</svg>
</body></html>
